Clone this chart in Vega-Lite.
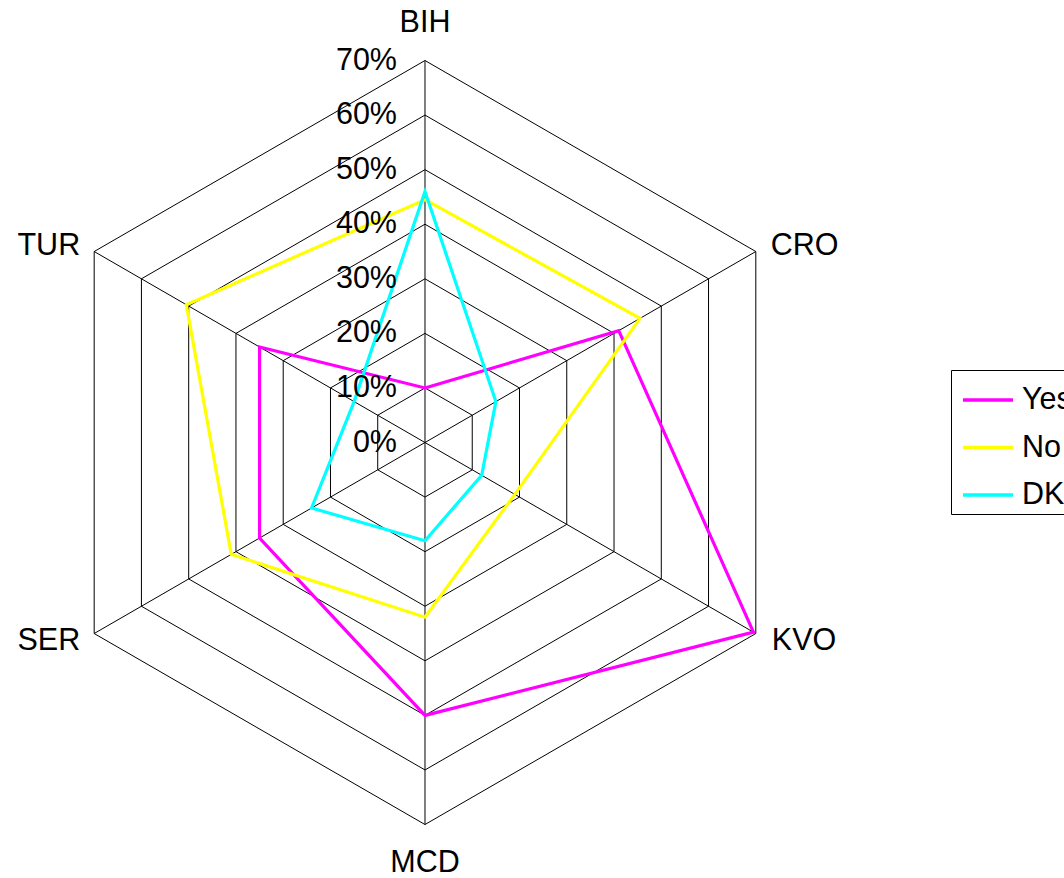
{
  "$schema": "https://vega.github.io/schema/vega-lite/v6.json",
  "width": 1064,
  "height": 878,
  "padding": 0,
  "autosize": {"type": "none"},
  "background": "white",
  "config": {"view": {"stroke": null}, "font": "Liberation Sans"},
  "datasets": {
    "cats": [
      {"cat": "BIH", "i": 0},
      {"cat": "CRO", "i": 1},
      {"cat": "KVO", "i": 2},
      {"cat": "MCD", "i": 3},
      {"cat": "SER", "i": 4},
      {"cat": "TUR", "i": 5}
    ],
    "grid": [
      {"cat": "BIH", "i": 0, "lv": [10, 20, 30, 40, 50, 60, 70]},
      {"cat": "CRO", "i": 1, "lv": [10, 20, 30, 40, 50, 60, 70]},
      {"cat": "KVO", "i": 2, "lv": [10, 20, 30, 40, 50, 60, 70]},
      {"cat": "MCD", "i": 3, "lv": [10, 20, 30, 40, 50, 60, 70]},
      {"cat": "SER", "i": 4, "lv": [10, 20, 30, 40, 50, 60, 70]},
      {"cat": "TUR", "i": 5, "lv": [10, 20, 30, 40, 50, 60, 70]}
    ],
    "ticks": [
      {"lv": 0, "t": "0%"},
      {"lv": 10, "t": "10%"},
      {"lv": 20, "t": "20%"},
      {"lv": 30, "t": "30%"},
      {"lv": 40, "t": "40%"},
      {"lv": 50, "t": "50%"},
      {"lv": 60, "t": "60%"},
      {"lv": 70, "t": "70%"}
    ],
    "resp": [
      {"series": "Yes", "cat": "BIH", "i": 0, "v": 10},
      {"series": "Yes", "cat": "CRO", "i": 1, "v": 41},
      {"series": "Yes", "cat": "KVO", "i": 2, "v": 69.5},
      {"series": "Yes", "cat": "MCD", "i": 3, "v": 50},
      {"series": "Yes", "cat": "SER", "i": 4, "v": 35},
      {"series": "Yes", "cat": "TUR", "i": 5, "v": 35},
      {"series": "No", "cat": "BIH", "i": 0, "v": 44.5},
      {"series": "No", "cat": "CRO", "i": 1, "v": 45.5},
      {"series": "No", "cat": "KVO", "i": 2, "v": 19},
      {"series": "No", "cat": "MCD", "i": 3, "v": 32},
      {"series": "No", "cat": "SER", "i": 4, "v": 41},
      {"series": "No", "cat": "TUR", "i": 5, "v": 50.5},
      {"series": "DK", "cat": "BIH", "i": 0, "v": 46},
      {"series": "DK", "cat": "CRO", "i": 1, "v": 15},
      {"series": "DK", "cat": "KVO", "i": 2, "v": 12},
      {"series": "DK", "cat": "MCD", "i": 3, "v": 18},
      {"series": "DK", "cat": "SER", "i": 4, "v": 24},
      {"series": "DK", "cat": "TUR", "i": 5, "v": 15}
    ]
  },
  "layer": [
    {
      "data": {"name": "grid"},
      "transform": [
        {"flatten": ["lv"]},
        {"calculate": "datum.lv * sin(datum.i * PI / 3)", "as": "gx"},
        {"calculate": "datum.lv * cos(datum.i * PI / 3)", "as": "gy"}
      ],
      "mark": {"type": "line", "interpolate": "linear-closed", "stroke": "black", "strokeWidth": 1},
      "encoding": {
        "x": {"field": "gx", "type": "quantitative", "scale": {"domain": [-77.88, 117.1], "nice": false, "zero": false}, "axis": null},
        "y": {"field": "gy", "type": "quantitative", "scale": {"domain": [-79.8, 81.09], "nice": false, "zero": false}, "axis": null},
        "detail": {"field": "lv", "type": "nominal"},
        "order": {"field": "i", "type": "quantitative"}
      }
    },
    {
      "data": {"name": "cats"},
      "transform": [
        {"calculate": "0", "as": "zero"},
        {"calculate": "70 * sin(datum.i * PI / 3)", "as": "ex"},
        {"calculate": "70 * cos(datum.i * PI / 3)", "as": "ey"}
      ],
      "mark": {"type": "rule", "stroke": "black", "strokeWidth": 1},
      "encoding": {
        "x": {"field": "zero", "type": "quantitative"},
        "y": {"field": "zero", "type": "quantitative"},
        "x2": {"field": "ex"},
        "y2": {"field": "ey"}
      }
    },
    {
      "data": {"name": "resp"},
      "transform": [
        {"calculate": "datum.v * sin(datum.i * PI / 3)", "as": "px"},
        {"calculate": "datum.v * cos(datum.i * PI / 3)", "as": "py"}
      ],
      "mark": {"type": "line", "interpolate": "linear-closed", "strokeWidth": 3.2},
      "encoding": {
        "x": {"field": "px", "type": "quantitative"},
        "y": {"field": "py", "type": "quantitative"},
        "order": {"field": "i", "type": "quantitative"},
        "color": {
          "field": "series",
          "type": "nominal",
          "scale": {"domain": ["Yes", "No", "DK"], "range": ["#ff00ff", "#ffff00", "#00ffff"]},
          "legend": {
            "orient": "none",
            "legendX": 951,
            "legendY": 370,
            "title": null,
            "symbolType": "stroke",
            "symbolSize": 2500,
            "symbolStrokeWidth": 3.5,
            "symbolOffset": 7,
            "labelFontSize": 30.5,
            "labelFont": "Liberation Sans",
            "labelColor": "black",
            "labelOffset": 7,
            "strokeColor": "black",
            "padding": 3,
            "rowPadding": 4.5,
            "fillColor": "white"
          }
        }
      }
    },
    {
      "data": {"name": "ticks"},
      "transform": [{"calculate": "0", "as": "zero"}],
      "mark": {"type": "text", "align": "right", "baseline": "middle", "dx": -28, "fontSize": 30.5, "font": "Liberation Sans", "color": "black"},
      "encoding": {
        "x": {"field": "zero", "type": "quantitative"},
        "y": {"field": "lv", "type": "quantitative"},
        "text": {"field": "t"}
      }
    },
    {
      "data": {"name": "cats"},
      "transform": [
        {"filter": "datum.cat === 'BIH'"},
        {"calculate": "70 * sin(datum.i * PI / 3)", "as": "ex"},
        {"calculate": "70 * cos(datum.i * PI / 3)", "as": "ey"}
      ],
      "mark": {"type": "text", "align": "center", "baseline": "middle", "dy": -38, "fontSize": 30.5, "font": "Liberation Sans", "color": "black"},
      "encoding": {"x": {"field": "ex", "type": "quantitative"}, "y": {"field": "ey", "type": "quantitative"}, "text": {"field": "cat"}}
    },
    {
      "data": {"name": "cats"},
      "transform": [
        {"filter": "datum.cat === 'MCD'"},
        {"calculate": "70 * sin(datum.i * PI / 3)", "as": "ex"},
        {"calculate": "70 * cos(datum.i * PI / 3)", "as": "ey"}
      ],
      "mark": {"type": "text", "align": "center", "baseline": "middle", "dy": 38, "fontSize": 30.5, "font": "Liberation Sans", "color": "black"},
      "encoding": {"x": {"field": "ex", "type": "quantitative"}, "y": {"field": "ey", "type": "quantitative"}, "text": {"field": "cat"}}
    },
    {
      "data": {"name": "cats"},
      "transform": [
        {"filter": "datum.cat === 'CRO'"},
        {"calculate": "70 * sin(datum.i * PI / 3)", "as": "ex"},
        {"calculate": "70 * cos(datum.i * PI / 3)", "as": "ey"}
      ],
      "mark": {"type": "text", "align": "left", "baseline": "middle", "dx": 15, "dy": -6, "fontSize": 30.5, "font": "Liberation Sans", "color": "black"},
      "encoding": {"x": {"field": "ex", "type": "quantitative"}, "y": {"field": "ey", "type": "quantitative"}, "text": {"field": "cat"}}
    },
    {
      "data": {"name": "cats"},
      "transform": [
        {"filter": "datum.cat === 'KVO'"},
        {"calculate": "70 * sin(datum.i * PI / 3)", "as": "ex"},
        {"calculate": "70 * cos(datum.i * PI / 3)", "as": "ey"}
      ],
      "mark": {"type": "text", "align": "left", "baseline": "middle", "dx": 16, "dy": 7, "fontSize": 30.5, "font": "Liberation Sans", "color": "black"},
      "encoding": {"x": {"field": "ex", "type": "quantitative"}, "y": {"field": "ey", "type": "quantitative"}, "text": {"field": "cat"}}
    },
    {
      "data": {"name": "cats"},
      "transform": [
        {"filter": "datum.cat === 'TUR'"},
        {"calculate": "70 * sin(datum.i * PI / 3)", "as": "ex"},
        {"calculate": "70 * cos(datum.i * PI / 3)", "as": "ey"}
      ],
      "mark": {"type": "text", "align": "right", "baseline": "middle", "dx": -14, "dy": -6, "fontSize": 30.5, "font": "Liberation Sans", "color": "black"},
      "encoding": {"x": {"field": "ex", "type": "quantitative"}, "y": {"field": "ey", "type": "quantitative"}, "text": {"field": "cat"}}
    },
    {
      "data": {"name": "cats"},
      "transform": [
        {"filter": "datum.cat === 'SER'"},
        {"calculate": "70 * sin(datum.i * PI / 3)", "as": "ex"},
        {"calculate": "70 * cos(datum.i * PI / 3)", "as": "ey"}
      ],
      "mark": {"type": "text", "align": "right", "baseline": "middle", "dx": -14, "dy": 7, "fontSize": 30.5, "font": "Liberation Sans", "color": "black"},
      "encoding": {"x": {"field": "ex", "type": "quantitative"}, "y": {"field": "ey", "type": "quantitative"}, "text": {"field": "cat"}}
    }
  ]
}
